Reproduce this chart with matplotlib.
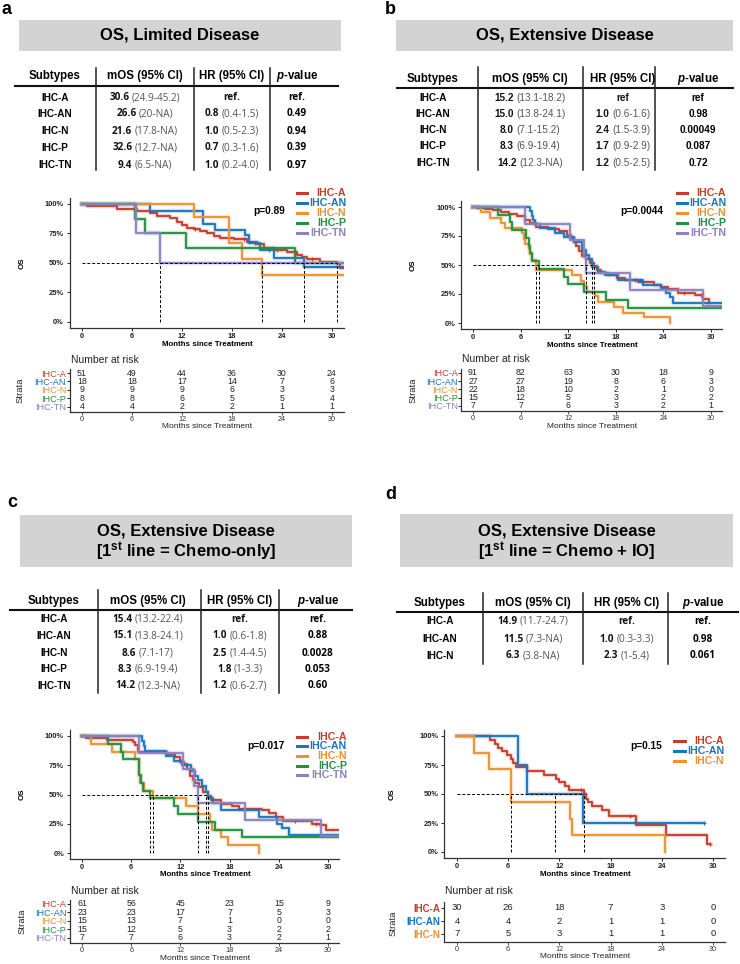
import numpy as np
import matplotlib
matplotlib.use('Agg')
from matplotlib import pyplot as plt
from matplotlib.lines import Line2D
from matplotlib.patches import Rectangle

plt.rcParams['font.family'] = ['Liberation Sans', 'DejaVu Sans']
plt.rcParams['mathtext.fontset'] = 'custom'
plt.rcParams['mathtext.rm'] = 'Liberation Sans:bold'
plt.rcParams['mathtext.bf'] = 'Liberation Sans:bold'
plt.rcParams['mathtext.it'] = 'Liberation Sans:italic:bold'

# ------------------------------------------------------------------
# data
# ------------------------------------------------------------------
groups5 = ['IHC-A', 'IHC-AN', 'IHC-N', 'IHC-P', 'IHC-TN']
groups3 = ['IHC-A', 'IHC-AN', 'IHC-N']
risk_times = [0, 6, 12, 18, 24, 30]
headers = ['Subtypes', 'mOS (95% CI)', 'HR (95% CI)', r'$\mathit{p}$-value']

# a: OS, limited disease
a_time = {
    'IHC-A': [0.6, 4.2, 6.6, 8.2, 9.0, 10.6, 11.4, 12.0, 12.6, 13.4, 14.2, 15.0, 15.8, 16.6,
              18.2, 19.8, 21.0, 21.8, 23.0, 24.6, 25.8, 26.4, 27.0, 28.6, 30.6, 31.0],
    'IHC-AN': [8.2, 14.5, 16.0, 19.6, 20.0, 21.4, 23.0, 26.6],
    'IHC-N': [13.4, 17.7, 19.2, 21.6],
    'IHC-P': [6.4, 7.6, 12.5, 25.6],
    'IHC-TN': [6.5, 9.4],
}
a_surv = {
    'IHC-A': [0.98, 0.96, 0.94, 0.92, 0.90, 0.88, 0.85, 0.82, 0.80, 0.79, 0.77, 0.75, 0.73, 0.71,
              0.70, 0.68, 0.66, 0.63, 0.61, 0.59, 0.57, 0.55, 0.53, 0.51, 0.49, 0.46],
    'IHC-AN': [0.944, 0.833, 0.778, 0.74, 0.667, 0.611, 0.54, 0.47],
    'IHC-N': [0.889, 0.667, 0.533, 0.40],
    'IHC-P': [0.875, 0.75, 0.625, 0.50],
    'IHC-TN': [0.75, 0.50],
}
a_end = {'IHC-A': 31.5, 'IHC-AN': 31.5, 'IHC-N': 31.5, 'IHC-P': 31.5, 'IHC-TN': 31.5}
a_cens = {'IHC-A': [13.6, 19.5, 23.4, 27.6], 'IHC-AN': [20.8, 22.4]}
a_medians = [9.4, 21.6, 26.6, 30.6]
a_risk = {
    'IHC-A': [51, 49, 44, 36, 30, 24],
    'IHC-AN': [18, 18, 17, 14, 7, 6],
    'IHC-N': [9, 9, 9, 6, 3, 3],
    'IHC-P': [8, 8, 6, 5, 5, 4],
    'IHC-TN': [4, 4, 2, 2, 1, 1],
}
a_mos = [('30.6', '(24.9-45.2)'), ('26.6', '(20-NA)'), ('21.6', '(17.8-NA)'),
         ('32.6', '(12.7-NA)'), ('9.4', '(6.5-NA)')]
a_hr = [('ref.', ''), ('0.8', '(0.4-1.5)'), ('1.0', '(0.5-2.3)'), ('0.7', '(0.3-1.6)'), ('1.0', '(0.2-4.0)')]
a_p = ['ref.', '0.49', '0.94', '0.39', '0.97']
a_pval = 'p=0.89'

# b: OS, extensive disease
b_time = {
    'IHC-A': [0.5, 1.5, 2.5, 3.5, 4.5, 5.5, 6.5, 7.2, 8.0, 9.5, 10.8, 11.8, 12.3, 12.7, 13.0, 13.4,
              13.8, 14.2, 14.7, 15.2, 15.6, 16.1, 17.0, 18.2, 19.2, 20.8, 22.8, 23.7, 24.6, 25.9,
              28.0, 29.0, 29.8],
    'IHC-AN': [7.2, 7.4, 7.6, 7.8, 8.5, 10.4, 11.5, 12.7, 13.8, 14.2, 14.6, 15.0, 15.7, 16.6,
               18.3, 21.4, 23.7, 24.4, 24.8, 25.2],
    'IHC-N': [1.0, 2.2, 3.5, 4.0, 6.2, 6.4, 6.6, 7.0, 7.2, 7.5, 8.0, 12.5, 13.6, 14.0, 14.4,
              15.4, 15.7, 17.8, 18.9, 21.6, 24.8],
    'IHC-P': [3.2, 4.7, 4.9, 6.7, 7.0, 7.2, 7.4, 8.3, 11.5, 12.0, 14.0, 16.8, 19.5],
    'IHC-TN': [6.6, 12.2, 14.0, 14.2, 19.8, 29.0],
}
b_surv = {
    'IHC-A': [0.99, 0.98, 0.97, 0.96, 0.94, 0.92, 0.89, 0.86, 0.83, 0.81, 0.79, 0.76, 0.73, 0.70,
              0.66, 0.62, 0.58, 0.55, 0.52, 0.49, 0.46, 0.43, 0.41, 0.39, 0.37, 0.35, 0.33, 0.31,
              0.29, 0.26, 0.24, 0.21, 0.17],
    'IHC-AN': [0.963, 0.926, 0.889, 0.852, 0.815, 0.78, 0.74, 0.70, 0.63, 0.59, 0.55, 0.48,
               0.44, 0.41, 0.37, 0.33, 0.30, 0.26, 0.22, 0.17],
    'IHC-N': [0.955, 0.909, 0.864, 0.818, 0.773, 0.727, 0.682, 0.636, 0.591, 0.545, 0.455,
              0.41, 0.36, 0.32, 0.27, 0.23, 0.18, 0.14, 0.09, 0.05, 0.0],
    'IHC-P': [0.933, 0.867, 0.80, 0.733, 0.667, 0.60, 0.533, 0.467, 0.40, 0.333, 0.267, 0.20, 0.133],
    'IHC-TN': [0.857, 0.714, 0.571, 0.429, 0.286, 0.143],
}
b_end = {'IHC-A': 29.8, 'IHC-AN': 31.5, 'IHC-N': 24.8, 'IHC-P': 31.5, 'IHC-TN': 31.5}
b_cens = {'IHC-A': [20.4, 21.3, 26.6, 28.8], 'IHC-AN': [21.0]}
b_medians = [8.0, 8.3, 14.2, 15.0, 15.2]
b_risk = {
    'IHC-A': [91, 82, 63, 30, 18, 9],
    'IHC-AN': [27, 27, 19, 8, 6, 3],
    'IHC-N': [22, 18, 10, 2, 1, 0],
    'IHC-P': [15, 12, 5, 3, 2, 2],
    'IHC-TN': [7, 7, 6, 3, 2, 1],
}
b_mos = [('15.2', '(13.1-18.2)'), ('15.0', '(13.8-24.1)'), ('8.0', '(7.1-15.2)'),
         ('8.3', '(6.9-19.4)'), ('14.2', '(12.3-NA)')]
b_hr = [('ref', ''), ('1.0', '(0.6-1.6)'), ('2.4', '(1.5-3.9)'), ('1.7', '(0.9-2.9)'), ('1.2', '(0.5-2.5)')]
b_p = ['ref', '0.98', '0.00049', '0.087', '0.72']
b_pval = 'p=0.0044'

# c: OS, extensive disease, 1st line chemo-only
c_time = {
    'IHC-A': [0.5, 3.0, 6.2, 6.5, 6.8, 10.4, 11.3, 12.0, 12.4, 12.8, 13.2, 13.5, 13.8, 14.3,
              14.8, 15.4, 15.7, 17.0, 18.3, 19.1, 22.0, 22.8, 23.6, 24.5, 28.0, 29.0, 29.8],
    'IHC-AN': [7.3, 7.5, 7.7, 10.2, 11.2, 12.2, 13.3, 13.8, 14.1, 14.6, 15.1, 15.4, 16.0, 16.9,
               21.6, 23.8, 24.4, 25.3],
    'IHC-N': [1.1, 3.6, 6.5, 6.9, 7.0, 7.1, 7.6, 8.6, 12.7, 14.2, 15.6, 15.9, 17.0, 17.8, 21.6],
    'IHC-P': [3.2, 4.8, 5.0, 6.9, 7.0, 7.2, 7.4, 8.3, 11.2, 11.7, 14.1, 16.2, 19.5],
    'IHC-TN': [6.9, 12.3, 13.6, 14.2, 19.9, 29.2],
}
c_surv = {
    'IHC-A': [0.984, 0.967, 0.951, 0.92, 0.86, 0.85, 0.82, 0.78, 0.76, 0.72, 0.66, 0.62, 0.60,
              0.56, 0.52, 0.49, 0.45, 0.42, 0.40, 0.38, 0.37, 0.34, 0.31, 0.27, 0.25, 0.24, 0.20],
    'IHC-AN': [0.957, 0.913, 0.87, 0.83, 0.79, 0.75, 0.70, 0.66, 0.62, 0.57, 0.52, 0.47, 0.43,
               0.37, 0.31, 0.25, 0.21, 0.155],
    'IHC-N': [0.933, 0.867, 0.80, 0.733, 0.667, 0.60, 0.533, 0.467, 0.40, 0.333, 0.267, 0.20,
              0.133, 0.067, 0.0],
    'IHC-P': [0.933, 0.867, 0.80, 0.733, 0.667, 0.60, 0.533, 0.467, 0.40, 0.333, 0.267, 0.20, 0.133],
    'IHC-TN': [0.857, 0.714, 0.571, 0.429, 0.286, 0.143],
}
c_end = {'IHC-A': 31.5, 'IHC-AN': 31.5, 'IHC-N': 21.6, 'IHC-P': 31.5, 'IHC-TN': 31.5}
c_cens = {'IHC-A': [26.0, 28.5]}
c_medians = [8.3, 8.6, 14.2, 15.1, 15.4]
c_risk = {
    'IHC-A': [61, 56, 45, 23, 15, 9],
    'IHC-AN': [23, 23, 17, 7, 5, 3],
    'IHC-N': [15, 13, 7, 1, 0, 0],
    'IHC-P': [15, 12, 5, 3, 2, 2],
    'IHC-TN': [7, 7, 6, 3, 2, 1],
}
c_mos = [('15.4', '(13.2-22.4)'), ('15.1', '(13.8-24.1)'), ('8.6', '(7.1-17)'),
         ('8.3', '(6.9-19.4)'), ('14.2', '(12.3-NA)')]
c_hr = [('ref.', ''), ('1.0', '(0.6-1.8)'), ('2.5', '(1.4-4.5)'), ('1.8', '(1-3.3)'), ('1.2', '(0.6-2.7)')]
c_p = ['ref.', '0.88', '0.0028', '0.053', '0.60']
c_pval = 'p=0.017'

# d: OS, extensive disease, 1st line chemo + IO
d_time = {
    'IHC-A': [3.9, 4.4, 4.8, 5.3, 5.9, 6.3, 6.6, 6.9, 8.2, 10.2, 11.6, 12.0, 12.7, 13.1, 14.9,
              15.1, 15.3, 15.8, 17.0, 17.8, 21.0, 24.5, 29.3],
    'IHC-AN': [7.2, 8.2, 14.8],
    'IHC-N': [2.0, 3.8, 6.3, 13.3, 13.5, 24.4],
}
d_surv = {
    'IHC-A': [0.967, 0.933, 0.90, 0.867, 0.833, 0.80, 0.767, 0.733, 0.70, 0.667, 0.633, 0.60,
              0.567, 0.533, 0.497, 0.46, 0.43, 0.40, 0.36, 0.31, 0.23, 0.15, 0.07],
    'IHC-AN': [0.75, 0.50, 0.25],
    'IHC-N': [0.857, 0.714, 0.429, 0.286, 0.143, 0.0],
}
d_end = {'IHC-A': 29.7, 'IHC-AN': 29.0, 'IHC-N': 24.4}
d_cens = {'IHC-A': [14.5, 15.0, 20.3, 29.7], 'IHC-AN': [29.0]}
d_medians = [6.3, 11.5, 14.9]
d_risk = {
    'IHC-A': [30, 26, 18, 7, 3, 0],
    'IHC-AN': [4, 4, 2, 1, 1, 0],
    'IHC-N': [7, 5, 3, 1, 1, 0],
}
d_mos = [('14.9', '(11.7-24.7)'), ('11.5', '(7.3-NA)'), ('6.3', '(3.8-NA)')]
d_hr = [('ref.', ''), ('1.0', '(0.3-3.3)'), ('2.3', '(1-5.4)')]
d_p = ['ref.', '0.98', '0.061']
d_pval = 'p=0.15'

COL = {'IHC-A': '#C73B2B', 'IHC-AN': '#1B75BC', 'IHC-N': '#EE9130',
       'IHC-P': '#23903F', 'IHC-TN': '#8A82C2'}

# ------------------------------------------------------------------
# helpers (positions given in pixels from the top-left corner)
# ------------------------------------------------------------------
W, H = 740, 964
XL = (-1.5, 31.4)
fig = plt.figure(figsize=(W / 100, H / 100), dpi=100)
fig.patch.set_facecolor('white')
renderer = fig.canvas.get_renderer()


def rect(l, t, r, b):
    return [l / W, 1 - b / H, (r - l) / W, (b - t) / H]


def ftext(x, y, s, **kw):
    return fig.text(x / W, 1 - y / H, s, **kw)


def fline(x0, y0, x1, y1, **kw):
    fig.add_artist(Line2D([x0 / W, x1 / W], [1 - y0 / H, 1 - y1 / H], **kw))


def two_part(x, y, bold, rest, fam, size=7.2):
    t1 = ftext(0, y, bold, fontsize=size, fontweight='bold', family=fam, va='center', ha='left', color='#111111')
    if not rest:
        t1.set_ha('center')
        t1.set_x(x / W)
        return
    t2 = ftext(0, y, rest, fontsize=size, family=fam, va='center', ha='left', color='#555555')
    w1 = t1.get_window_extent(renderer).width
    w2 = t2.get_window_extent(renderer).width
    gap = 2.5
    x0 = x - (w1 + gap + w2) / 2
    t1.set_x(x0 / W)
    t2.set_x((x0 + w1 + gap) / W)


def draw_header(lay, title_lines):
    ftext(lay['label'][0], lay['label'][1], lay['letter'], fontsize=13, fontweight='bold', ha='center', va='center')
    l, t, r, b = lay['box']
    fig.add_artist(Rectangle((l / W, 1 - b / H), (r - l) / W, (b - t) / H, facecolor='#D3D3D3',
                             edgecolor='none', transform=fig.transFigure))
    for s, ty in zip(title_lines, lay['title_y']):
        ftext((l + r) / 2, ty, s, fontsize=12, fontweight='bold', ha='center', va='center')


def draw_table(lay, groups, mos, hr, pv, fam):
    cols = lay['cols']
    for cx, h in zip(cols, headers):
        ftext(cx, lay['head_y'], h, fontsize=8.3, fontweight='bold', ha='center', va='center')
    fline(lay['line_x'][0], lay['line_y'], lay['line_x'][1], lay['line_y'], color='#111111', lw=1.5)
    for dx in lay['divs']:
        fline(dx, lay['div_y'][0], dx, lay['div_y'][1], color='#222222', lw=1.1)
    for i, g in enumerate(groups):
        ry = lay['rows'][i]
        ftext(cols[0], ry, g, fontsize=7.2, fontweight='bold', ha='center', va='center')
        two_part(cols[1], ry, mos[i][0], mos[i][1], fam)
        two_part(cols[2], ry, hr[i][0], hr[i][1], fam)
        ftext(cols[3], ry, pv[i], fontsize=7.2, fontweight='bold', family=fam, ha='center', va='center')


def draw_km(lay, groups, times, survs, ends, cens, medians, pval):
    x0, k, y100, y0 = lay['plot']
    span = y0 - y100
    ax = fig.add_axes(rect(x0 + XL[0] * k, y100 - 0.05 * span, x0 + XL[1] * k, y0 + 0.05 * span))
    for g in groups:
        tt = np.r_[0, times[g], ends[g]]
        ss = np.r_[1, survs[g], survs[g][-1]]
        ax.step(tt, ss, where='post', color=COL[g], lw=3.2, alpha=0.22)
        ax.step(tt, ss, where='post', color=COL[g], lw=1.35)
        if g in cens:
            ct = np.array(cens[g])
            cs = np.r_[1, survs[g]][np.searchsorted(times[g], ct, side='right')]
            ax.plot(ct, cs, '+', color=COL[g], ms=3.5, mew=0.8)
    dash = dict(color='black', lw=0.7, ls=(0, (3, 2)))
    ax.plot([0, max(medians)], [0.5, 0.5], **dash)
    for m in medians:
        ax.plot([m, m], [0, 0.5], **dash)
    ax.set_xlim(XL)
    ax.set_ylim(-0.05, 1.05)
    ax.set_xticks(risk_times)
    ax.set_yticks([0, 0.25, 0.5, 0.75, 1.0])
    ax.set_yticklabels(['0%', '25%', '50%', '75%', '100%'])
    ax.tick_params(labelsize=5.4, length=2.5, width=0.7, pad=1.5, colors='#222222')
    for lbl in ax.get_xticklabels() + ax.get_yticklabels():
        lbl.set_fontweight('bold')
    for s in ['top', 'right']:
        ax.spines[s].set_visible(False)
    for s in ['left', 'bottom']:
        ax.spines[s].set_color('#333333')
        ax.spines[s].set_linewidth(0.9)
    ax.patch.set_alpha(0)
    # axis titles
    ftext(x0 + 15 * k, y0 + 22, 'Months since Treatment', fontsize=5.7, fontweight='bold', ha='center', va='center')
    ftext(lay['ylab_x'], (y100 + y0) / 2, 'OS', fontsize=5.7, fontweight='bold', rotation=90, ha='center', va='center')
    # p-value and legend
    ftext(lay['p_xy'][0], lay['p_xy'][1], pval, fontsize=7.3, fontweight='bold', ha='center', va='center')
    for g, ly in zip(groups, lay['leg_y']):
        fline(lay['leg_x'][0], ly, lay['leg_x'][1], ly, color=COL[g], lw=2.2)
        ftext(lay['leg_tx'], ly, g, fontsize=7.7, fontweight='bold', color=COL[g], ha='right', va='center')


def draw_risk(lay, groups, risk, size, lab_size, bold):
    x0, k = lay['plot'][0], lay['plot'][1]
    first, sp, bottom = lay['risk']
    n = len(groups)
    top = first - sp / 2
    ax = fig.add_axes(rect(x0 + XL[0] * k, top, x0 + XL[1] * k, bottom))
    for i, g in enumerate(groups):
        for xt, v in zip(risk_times, risk[g]):
            ax.text(xt, n - 1 - i, str(v), ha='center', va='center', fontsize=size, color='#222222')
    ax.set_xlim(XL)
    ax.set_ylim(-(bottom - (first + (n - 1) * sp)) / sp, n - 0.5)
    ax.set_xticks(risk_times)
    ax.set_yticks(range(n - 1, -1, -1))
    ax.set_yticklabels(groups)
    ax.tick_params(axis='x', labelsize=5.2, length=2, width=0.6, pad=1, colors='#333333')
    ax.tick_params(axis='y', labelsize=lab_size, length=2, width=0.6, pad=0.5)
    for g, lbl in zip(groups, ax.get_yticklabels()):
        lbl.set_color(COL[g])
        if bold:
            lbl.set_fontweight('bold')
    for s in ['top', 'right']:
        ax.spines[s].set_visible(False)
    for s in ['left', 'bottom']:
        ax.spines[s].set_color('#333333')
        ax.spines[s].set_linewidth(0.9)
    ax.patch.set_alpha(0)
    ftext(x0 + XL[0] * k + 1, lay['nar_y'], 'Number at risk', fontsize=7.5, ha='left', va='center', color='#222222')
    ftext(x0 + 15 * k, bottom + 15, 'Months since Treatment', fontsize=6.0, ha='center', va='center', color='#222222')
    ftext(lay['strata_x'], (first + bottom) / 2 - 2, 'Strata', fontsize=6.8, rotation=90, ha='center', va='center',
          color='#222222')


# ------------------------------------------------------------------
# layouts
# ------------------------------------------------------------------
lay_a = dict(letter='a', label=(6, 10), box=(19, 20, 341, 51), title_y=[35.5],
             head_y=76, line_y=86, line_x=(15, 338), divs=[96, 194, 270], div_y=(68, 170),
             cols=[55, 145, 232, 297], rows=[98, 114, 131, 148, 165],
             plot=(82, 8.33, 204, 322), ylab_x=22, p_xy=(269, 211),
             leg_y=[193, 203, 213, 223, 233], leg_x=(297, 307), leg_tx=346,
             risk=(373, 8.4, 412), nar_y=360, strata_x=20)
lay_b = dict(letter='b', label=(390, 10), box=(396, 20, 733, 51), title_y=[35.5],
             head_y=79, line_y=88, line_x=(397, 733), divs=[478, 583, 655], div_y=(67, 170),
             cols=[433, 530, 623, 698], rows=[98, 114, 130, 146, 163],
             plot=(473, 7.93, 207, 323), ylab_x=413, p_xy=(642, 211),
             leg_y=[193, 203, 213, 223, 233], leg_x=(677, 687), leg_tx=726,
             risk=(373, 8.2, 411), nar_y=359, strata_x=413)
lay_c = dict(letter='c', label=(12, 502), box=(20, 515, 352, 567), title_y=[531, 552],
             head_y=601, line_y=610, line_x=(10, 352), divs=[98, 201, 279], div_y=(590, 693),
             cols=[54, 148, 240, 318], rows=[619, 636, 653, 669, 686],
             plot=(82, 8.2, 736, 853), ylab_x=22, p_xy=(266, 746),
             leg_y=[737, 746, 756, 766, 775], leg_x=(297, 307), leg_tx=347,
             risk=(904, 8.4, 943), nar_y=891, strata_x=22)
lay_d = dict(letter='d', label=(391, 495), box=(400, 514, 733, 567), title_y=[531, 552],
             head_y=603, line_y=612, line_x=(397, 738), divs=[483, 583, 668], div_y=(593, 664),
             cols=[440, 533, 627, 703], rows=[621, 639, 656],
             plot=(457, 8.53, 736, 852), ylab_x=392, p_xy=(646, 746),
             leg_y=[741, 751, 761], leg_x=(674, 685), leg_tx=724,
             risk=(908, 13, 942), nar_y=891, strata_x=393)

# ------------------------------------------------------------------
# draw the four panels
# ------------------------------------------------------------------
draw_header(lay_a, ['OS, Limited Disease'])
draw_table(lay_a, groups5, a_mos, a_hr, a_p, 'Open Sans')
draw_km(lay_a, groups5, a_time, a_surv, a_end, a_cens, a_medians, a_pval)
draw_risk(lay_a, groups5, a_risk, 6.3, 6.6, False)

draw_header(lay_b, ['OS, Extensive Disease'])
draw_table(lay_b, groups5, b_mos, b_hr, b_p, 'Liberation Sans')
draw_km(lay_b, groups5, b_time, b_surv, b_end, b_cens, b_medians, b_pval)
draw_risk(lay_b, groups5, b_risk, 6.3, 6.6, False)

draw_header(lay_c, ['OS, Extensive Disease', r'[1$^{\mathrm{st}}$ line = Chemo-only]'])
draw_table(lay_c, groups5, c_mos, c_hr, c_p, 'Open Sans')
draw_km(lay_c, groups5, c_time, c_surv, c_end, c_cens, c_medians, c_pval)
draw_risk(lay_c, groups5, c_risk, 6.3, 6.6, False)

draw_header(lay_d, ['OS, Extensive Disease', r'[1$^{\mathrm{st}}$ line = Chemo + IO]'])
draw_table(lay_d, groups3, d_mos, d_hr, d_p, 'Open Sans')
draw_km(lay_d, groups3, d_time, d_surv, d_end, d_cens, d_medians, d_pval)
draw_risk(lay_d, groups3, d_risk, 6.8, 7.0, True)

fig.savefig('out.png', dpi=100, facecolor='white')
